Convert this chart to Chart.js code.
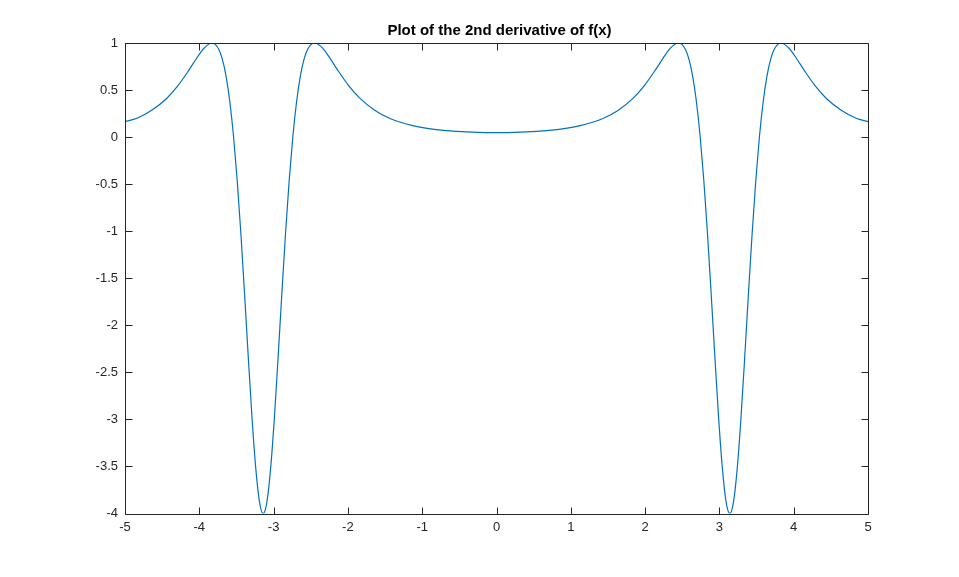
<!DOCTYPE html>
<html>
<head>
<meta charset="utf-8">
<script src="https://cdn.jsdelivr.net/npm/chart.js@4"></script>
<style>
  html, body { margin: 0; padding: 0; background: #fff; }
  canvas { display: block; }
</style>
</head>
<body>
<canvas id="plot" width="959" height="577"></canvas>
<script>
// values
const xValues = [
    -5, -4.84, -4.64, -4.44, -4.29, -4.14, -4.04, -3.94, -3.83, -3.74,
    -3.69, -3.64, -3.59, -3.54, -3.49, -3.44, -3.39, -3.34, -3.29, -3.24,
    -3.19, -3.14, -3.09, -3.04, -2.99, -2.94, -2.89, -2.84, -2.79, -2.74,
    -2.69, -2.64, -2.59, -2.54, -2.45, -2.34, -2.24, -2.14, -1.99, -1.84,
    -1.64, -1.44, -1.14, -0.84, -0.54, -0.25, 0,
    0.25, 0.54, 0.84, 1.14, 1.44, 1.64, 1.84, 1.99, 2.14, 2.24,
    2.34, 2.45, 2.54, 2.59, 2.64, 2.69, 2.74, 2.79, 2.84, 2.89,
    2.94, 2.99, 3.04, 3.09, 3.14, 3.19, 3.24, 3.29, 3.34, 3.39,
    3.44, 3.49, 3.54, 3.59, 3.64, 3.69, 3.74, 3.83, 3.94, 4.04,
    4.14, 4.29, 4.44, 4.64, 4.84, 5
];
const yValues = [
    0.165, 0.2, 0.285, 0.41, 0.544, 0.712, 0.833, 0.942, 1.0, 0.937,
    0.829, 0.649, 0.381, 0.014, -0.459, -1.03, -1.675, -2.349, -2.989, -3.521,
    -3.876, -4.0, -3.876, -3.521, -2.989, -2.349, -1.675, -1.03, -0.459, 0.014,
    0.381, 0.649, 0.829, 0.937, 1.0, 0.945, 0.836, 0.715, 0.548, 0.414,
    0.286, 0.201, 0.124, 0.083, 0.061, 0.05, 0.048,
    0.05, 0.061, 0.083, 0.124, 0.201, 0.286, 0.414, 0.548, 0.715, 0.836,
    0.945, 1.0, 0.937, 0.829, 0.649, 0.381, 0.014, -0.459, -1.03, -1.675,
    -2.349, -2.989, -3.521, -3.876, -4.0, -3.876, -3.521, -2.989, -2.349, -1.675,
    -1.03, -0.459, 0.014, 0.381, 0.649, 0.829, 0.937, 1.0, 0.942, 0.833,
    0.712, 0.544, 0.41, 0.285, 0.2, 0.165
];

const xTicks = [-5, -4, -3, -2, -1, 0, 1, 2, 3, 4, 5];
const yTicks = [1, 0.5, 0, -0.5, -1, -1.5, -2, -2.5, -3, -3.5, -4];
const titleText = "Plot of the 2nd derivative of f(x)";

const axisColor = "#262626";
const fontFamily = "'Liberation Sans', Arial, Helvetica, sans-serif";

// MATLAB style box with inward tick marks, plus the title over the plot box
const boxAxes = {
    id: "boxAxes",
    afterDraw(chart) {
        const { ctx, chartArea: a, scales } = chart;
        const left = Math.round(a.left) + 0.5;
        const right = Math.round(a.right) + 0.5;
        const top = Math.round(a.top) + 0.5;
        const bottom = Math.round(a.bottom) + 0.5;
        const len = 7;
        ctx.save();
        ctx.strokeStyle = axisColor;
        ctx.lineWidth = 1;
        ctx.beginPath();
        ctx.rect(left, top, right - left, bottom - top);
        xTicks.forEach((v) => {
            const px = Math.round(scales.x.getPixelForValue(v)) + 0.5;
            ctx.moveTo(px, bottom);
            ctx.lineTo(px, bottom - len);
            ctx.moveTo(px, top);
            ctx.lineTo(px, top + len);
        });
        yTicks.forEach((v) => {
            const py = Math.round(scales.y.getPixelForValue(v)) + 0.5;
            ctx.moveTo(left, py);
            ctx.lineTo(left + len, py);
            ctx.moveTo(right, py);
            ctx.lineTo(right - len, py);
        });
        ctx.stroke();

        ctx.fillStyle = "#000";
        ctx.font = "bold 15px " + fontFamily;
        ctx.textAlign = "center";
        ctx.textBaseline = "alphabetic";
        ctx.fillText(titleText, (a.left + a.right) / 2 + 3, 35);
        ctx.restore();
    }
};

const ctx = document.getElementById("plot").getContext("2d");
new Chart(ctx, {
    type: "line",
    data: {
        datasets: [{
            data: xValues.map((x, i) => ({ x: x, y: yValues[i] })),
            borderColor: "#0072BD",
            borderWidth: 1.2,
            pointRadius: 0,
            fill: false,
            cubicInterpolationMode: "monotone"
        }]
    },
    options: {
        responsive: false,
        animation: false,
        layout: { padding: { left: 0, right: 91, top: 43, bottom: 0 } },
        plugins: {
            legend: { display: false },
            tooltip: { enabled: false },
            title: { display: false }
        },
        scales: {
            x: {
                type: "linear",
                min: -5,
                max: 5,
                afterBuildTicks: (scale) => { scale.ticks = xTicks.map((v) => ({ value: v })); },
                afterFit: (scale) => { scale.height = 63.5; },
                grid: { display: false, drawTicks: false },
                border: { display: false },
                ticks: {
                    color: axisColor,
                    padding: 6,
                    maxRotation: 0,
                    callback: (v) => String(v),
                    font: { family: fontFamily, size: 13 }
                }
            },
            y: {
                type: "linear",
                min: -4,
                max: 1,
                afterBuildTicks: (scale) => { scale.ticks = yTicks.map((v) => ({ value: v })); },
                afterFit: (scale) => { scale.width = 125; },
                grid: { display: false, drawTicks: false },
                border: { display: false },
                ticks: {
                    color: axisColor,
                    padding: 7,
                    callback: (v) => String(v),
                    font: { family: fontFamily, size: 13 }
                }
            }
        }
    },
    plugins: [boxAxes]
});
</script>
</body>
</html>
